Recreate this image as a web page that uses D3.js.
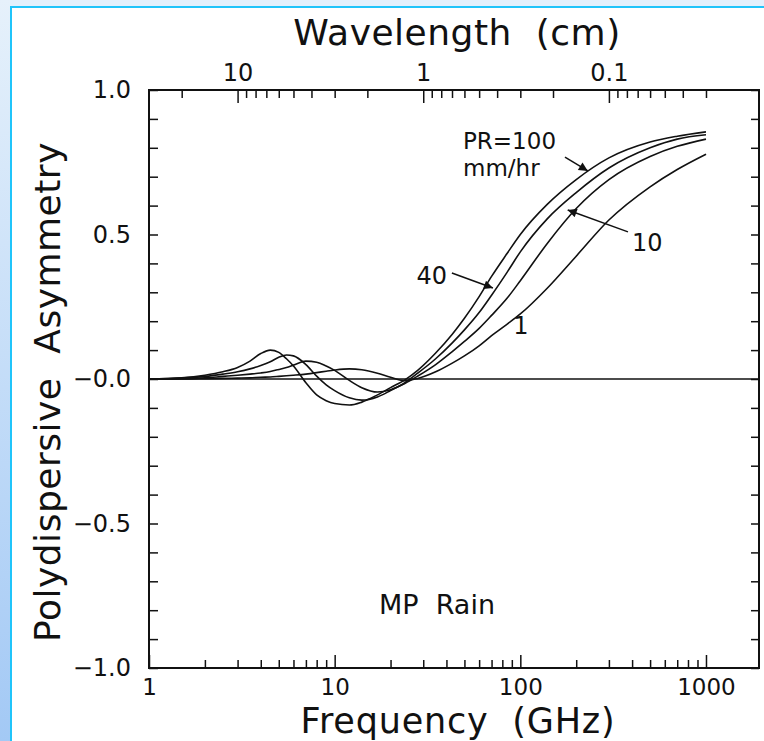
<!DOCTYPE html>
<html>
<head>
<meta charset="utf-8">
<script src="https://cdn.jsdelivr.net/npm/d3@7"></script>
<style>
  body { margin: 0; background: #fff; }
  text { font-family: "DejaVu Sans", sans-serif; fill: #111; white-space: pre; }
</style>
</head>
<body>
<div id="chart"></div>
<script>
// frequency grid (GHz) shared by all rain rates
const freqGHz = [1, 1.5, 2, 2.5, 3, 3.5, 4, 4.5, 5, 5.5, 6, 7, 8, 9, 10, 12, 14, 17, 20, 24, 28, 35, 43, 50, 60, 70, 85, 100, 140, 200, 300, 500, 700, 1000];

// polydispersive asymmetry, one array per rain rate
const asymPR100 = [0, 0.004, 0.013, 0.025, 0.04, 0.062, 0.088, 0.10, 0.092, 0.07, 0.045, -0.013, -0.055, -0.075, -0.085, -0.09, -0.08, -0.055, -0.03, -0.002, 0.03, 0.09, 0.155, 0.21, 0.285, 0.355, 0.435, 0.50, 0.605, 0.69, 0.765, 0.82, 0.84, 0.855];
const asymPR40  = [0, 0.003, 0.009, 0.017, 0.025, 0.035, 0.047, 0.06, 0.075, 0.083, 0.08, 0.05, 0.01, -0.02, -0.04, -0.065, -0.073, -0.062, -0.04, -0.012, 0.02, 0.07, 0.125, 0.17, 0.23, 0.29, 0.37, 0.44, 0.555, 0.645, 0.73, 0.80, 0.83, 0.845];
const asymPR10  = [0, 0.001, 0.004, 0.009, 0.013, 0.017, 0.021, 0.026, 0.033, 0.04, 0.048, 0.062, 0.058, 0.045, 0.03, -0.005, -0.03, -0.045, -0.037, -0.015, 0.01, 0.05, 0.095, 0.13, 0.175, 0.22, 0.28, 0.34, 0.47, 0.59, 0.69, 0.77, 0.805, 0.83];
const asymPR1   = [0, 0, 0.001, 0.002, 0.003, 0.004, 0.006, 0.007, 0.009, 0.011, 0.013, 0.017, 0.022, 0.027, 0.031, 0.035, 0.032, 0.02, 0.006, -0.006, 0.002, 0.025, 0.055, 0.08, 0.115, 0.15, 0.19, 0.225, 0.315, 0.425, 0.55, 0.665, 0.725, 0.778];

// axis ticks
const freqMajor = [1, 10, 100, 1000];
const freqMinor = [2, 3, 4, 5, 6, 7, 8, 9, 20, 30, 40, 50, 60, 70, 80, 90, 200, 300, 400, 500, 600, 700, 800, 900];
const waveMajor = [10, 1, 0.1];
const waveMinor = [20, 9, 8, 7, 6, 5, 4, 3, 2, 0.9, 0.8, 0.7, 0.6, 0.5, 0.4, 0.3, 0.2, 0.09, 0.08, 0.07, 0.06, 0.05, 0.04, 0.03];
const asymMajor = [1, 0.5, 0, -0.5, -1];
const asymLabels = ["1.0", "0.5", "\u22120.0", "\u22120.5", "\u22121.0"];
const asymMinor = d3.range(-10, 11).map(i => i / 10);

// annotations: label text, arrow tail and tip in data units (GHz, asymmetry)
const arrowLabels = ["PR=100", "10", "40"];
const arrowTail = [[174, 0.768], [380, 0.509], [42.8, 0.367]];
const arrowTip  = [[231, 0.72], [180, 0.585], [71.2, 0.315]];

const width = 764, height = 741;
const plotL = 149, plotR = 759, plotT = 90, plotB = 668;

const svg = d3.select("#chart").append("svg")
    .attr("width", width)
    .attr("height", height);

// light blue slide border
const defs = svg.append("defs");
const grad = defs.append("linearGradient")
    .attr("id", "sideGrad")
    .attr("x1", 0).attr("y1", 0).attr("x2", 0).attr("y2", 1);
grad.append("stop").attr("offset", 0).attr("stop-color", "#e6f1fb");
grad.append("stop").attr("offset", 1).attr("stop-color", "#a3c9f5");

defs.append("marker")
    .attr("id", "head")
    .attr("viewBox", "0 0 10 10")
    .attr("refX", 10).attr("refY", 5)
    .attr("markerWidth", 15).attr("markerHeight", 9)
    .attr("markerUnits", "userSpaceOnUse")
    .attr("orient", "auto")
  .append("path")
    .attr("d", "M0,0 L10,5 L0,10 z")
    .attr("fill", "#111");

svg.append("rect").attr("width", width).attr("height", height).attr("fill", "#fff");
svg.append("rect").attr("x", 0).attr("y", 0).attr("width", width).attr("height", 6).attr("fill", "#e3f0fc");
svg.append("rect").attr("x", 0).attr("y", 0).attr("width", 10).attr("height", height).attr("fill", "url(#sideGrad)");
svg.append("rect").attr("x", 10).attr("y", 6).attr("width", width - 10).attr("height", 2).attr("fill", "#20c4fa");
svg.append("rect").attr("x", 10).attr("y", 6).attr("width", 2).attr("height", height - 6).attr("fill", "#20c4fa");

const x = d3.scaleLog().domain([1, 1930]).range([plotL, plotR]);
const xw = d3.scaleLog().domain([30, 30 / 1930]).range([plotL, plotR]);
const y = d3.scaleLinear().domain([-1, 1]).range([plotB, plotT]);

const tickStyle = (size = 24) => g => {
    g.select(".domain").remove();
    g.selectAll("line").attr("stroke", "#111").attr("stroke-width", 1.5);
    g.selectAll("text").attr("font-size", size).attr("fill", "#111")
        .attr("font-family", "DejaVu Sans, sans-serif");
};

// bottom frequency axis
svg.append("g").attr("transform", `translate(0,${plotB})`)
    .call(d3.axisBottom(x).tickValues(freqMinor).tickSize(-8).tickFormat(""))
    .call(tickStyle());
svg.append("g").attr("transform", `translate(0,${plotB})`)
    .call(d3.axisBottom(x).tickValues(freqMajor).tickSize(-13).tickPadding(11).tickFormat(d3.format("d")))
    .call(tickStyle(23));

// top wavelength axis
svg.append("g").attr("transform", `translate(0,${plotT})`)
    .call(d3.axisTop(xw).tickValues(waveMinor).tickSize(-8).tickFormat(""))
    .call(tickStyle());
svg.append("g").attr("transform", `translate(0,${plotT})`)
    .call(d3.axisTop(xw).tickValues(waveMajor).tickSize(-13).tickPadding(9).tickFormat(d => d >= 1 ? d3.format("d")(d) : d3.format(".1f")(d)))
    .call(tickStyle());

// left and right asymmetry axes
svg.append("g").attr("transform", `translate(${plotL},0)`)
    .call(d3.axisLeft(y).tickValues(asymMinor).tickSize(-9).tickFormat(""))
    .call(tickStyle());
svg.append("g").attr("transform", `translate(${plotL},0)`)
    .call(d3.axisLeft(y).tickValues(asymMajor).tickSize(0).tickPadding(18).tickFormat((d, i) => asymLabels[i]))
    .call(tickStyle());
svg.append("g").attr("transform", `translate(${plotR},0)`)
    .call(d3.axisRight(y).tickValues(asymMinor).tickSize(-8).tickFormat(""))
    .call(tickStyle());

// frame and zero line
svg.append("rect")
    .attr("x", plotL).attr("y", plotT)
    .attr("width", plotR - plotL).attr("height", plotB - plotT)
    .attr("fill", "none").attr("stroke", "#111").attr("stroke-width", 2);
svg.append("line")
    .attr("x1", plotL).attr("x2", plotR)
    .attr("y1", y(0)).attr("y2", y(0))
    .attr("stroke", "#111").attr("stroke-width", 1.5);

// curves
const line = d3.line()
    .x((d, i) => x(freqGHz[i]))
    .y(d => y(d))
    .curve(d3.curveMonotoneX);

svg.append("g")
    .selectAll("path")
    .data([asymPR100, asymPR40, asymPR10, asymPR1])
    .join("path")
    .attr("d", line)
    .attr("fill", "none")
    .attr("stroke", "#111")
    .attr("stroke-width", 1.6);

// arrows with labels
svg.append("g")
    .selectAll("line")
    .data(arrowLabels)
    .join("line")
    .attr("x1", (d, i) => x(arrowTail[i][0]))
    .attr("y1", (d, i) => y(arrowTail[i][1]))
    .attr("x2", (d, i) => x(arrowTip[i][0]))
    .attr("y2", (d, i) => y(arrowTip[i][1]))
    .attr("stroke", "#111")
    .attr("stroke-width", 1.5)
    .attr("marker-end", "url(#head)");

svg.append("text").attr("x", 463).attr("y", 149).attr("font-size", 23).text("PR=100");
svg.append("text").attr("x", 463).attr("y", 176).attr("font-size", 23).text("mm/hr");
svg.append("text").attr("x", 632).attr("y", 251).attr("font-size", 24).text("10");
svg.append("text").attr("x", 447).attr("y", 284).attr("font-size", 24).attr("text-anchor", "end").text("40");
svg.append("text").attr("x", 521).attr("y", 334).attr("font-size", 24).attr("text-anchor", "middle").text("1");

svg.append("text").attr("x", 437).attr("y", 614).attr("font-size", 27).attr("text-anchor", "middle").text("MP  Rain");

// axis titles
svg.append("text").attr("x", 457).attr("y", 45).attr("font-size", 36).attr("text-anchor", "middle").attr("letter-spacing", 0.5).text("Wavelength  (cm)");
svg.append("text").attr("x", 458).attr("y", 733).attr("font-size", 35).attr("text-anchor", "middle").attr("letter-spacing", 0.8).text("Frequency  (GHz)");
svg.append("text")
    .attr("transform", `translate(60,392) rotate(-90)`)
    .attr("font-size", 36).attr("text-anchor", "middle").attr("letter-spacing", 0.5)
    .text("Polydispersive  Asymmetry");
</script>
</body>
</html>
